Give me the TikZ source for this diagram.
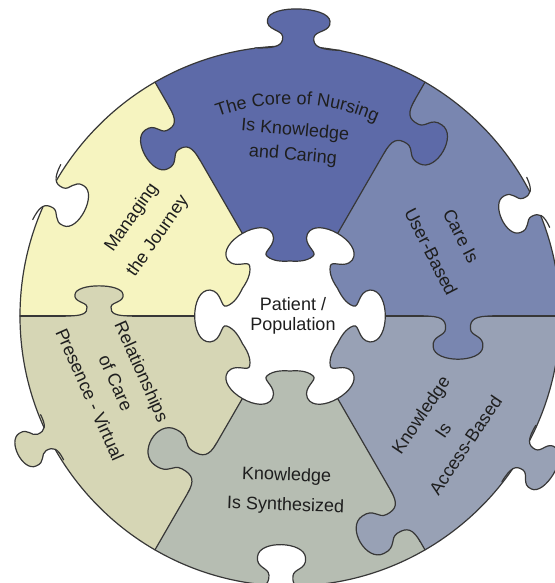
\documentclass[tikz,border=0pt]{standalone}
\usepackage{fontspec}
\setmainfont{Liberation Sans}
\usetikzlibrary{decorations.text}

\definecolor{corecol}{RGB}{93,106,168}
\definecolor{carecol}{RGB}{121,134,176}
\definecolor{accesscol}{RGB}{152,161,181}
\definecolor{synthcol}{RGB}{182,189,178}
\definecolor{relcol}{RGB}{214,214,181}
\definecolor{managecol}{RGB}{246,244,192}
\definecolor{linecol}{RGB}{55,55,55}
\definecolor{txt}{RGB}{30,30,30}

\newcommand{\tabcurve}{.. controls (-0.55,0) and (-0.38,0.08) .. (-0.4,0.3)
  .. controls (-0.42,0.48) and (-0.85,0.45) .. (-0.8,0.72)
  .. controls (-0.76,1.1) and (0.76,1.1) .. (0.8,0.72)
  .. controls (0.85,0.45) and (0.42,0.48) .. (0.4,0.3)
  .. controls (0.38,0.08) and (0.55,0) .. (1.1,0)}
\newcommand{\puzzletab}[5]{%
  \begin{scope}[shift={#1}, rotate=#2-90, xscale=#3, yscale=#4]
    \fill[#5] (-1.1,-0.15) -- (-1.1,0) \tabcurve -- (1.1,-0.15) -- cycle;
    \draw[puzzleline] (-1.1,0) \tabcurve;
  \end{scope}}

\begin{document}
\begin{tikzpicture}[x=0.5pt, y=0.5pt,
    puzzleline/.style={draw=linecol, line width=0.6pt, line join=round, line cap=round},
    lbl/.style={text=txt, align=center, font=\fontsize{9}{#1}\selectfont}]
\useasboundingbox (-290,-267) rectangle (265,316);

\foreach \a/\c in {0/carecol, 60/corecol, 120/managecol, 180/relcol, 240/synthcol, 300/accesscol}
  \fill[\c] (0,0) -- (\a:270) arc[start angle=\a, end angle=\a+60, radius=270] -- cycle;
\foreach \a in {0,60,...,300}
  \draw[puzzleline] (0,0) -- (\a:270);
\draw[puzzleline] (0,0) circle[radius=270];

\puzzletab{(88.3:267)}{88.3}{39}{40}{corecol}
\puzzletab{(24.6:273)}{204.6}{25}{40}{white}
\puzzletab{(-31:267)}{-31}{30}{40}{accesscol}
\puzzletab{(268:273)}{88}{30}{44}{white}
\puzzletab{(207:267)}{207}{23}{38}{relcol}
\puzzletab{(153:273)}{333}{28}{42}{white}

\puzzletab{(0:168)}{-90}{31}{43}{carecol}
\puzzletab{(60:219)}{-30}{28}{50}{corecol}
\puzzletab{(120:211)}{210}{28}{45}{corecol}
\puzzletab{(180:191)}{90}{30}{30}{relcol}
\puzzletab{(240:176)}{150}{26}{58}{synthcol}
\puzzletab{(300:231)}{210}{27}{52}{accesscol}

\filldraw[puzzleline, fill=white] (-30:55)
  \foreach \a in {0,60,...,300} {
    .. controls (\a-22:55) and (\a-13:57) .. (\a-9:64)
    .. controls (\a-6:70) and (\a-20:72) .. (\a-18:84)
    .. controls (\a-15:104) and (\a+15:104) .. (\a+18:84)
    .. controls (\a+20:72) and (\a+6:70) .. (\a+9:64)
    .. controls (\a+13:57) and (\a+22:55) .. (\a+30:55)
  } -- cycle;

\path[decorate, decoration={text along path, text align=center, text color=txt,
    text={|\fontsize{9}{11}\selectfont|The Core of Nursing}}]
  (125:212) arc[start angle=125, end angle=51, radius=212];
\node (core)[lbl=12.5, rotate=-5] at (4,173) {Is Knowledge\\and Caring};
\node (care)[lbl=17, rotate=-63] at (156,72) {Care Is\\User-Based};
\node (access)[lbl=13.5, rotate=56] at (153,-114) {Knowledge\\Is\\Access-Based};
\node (synth)[lbl=15, rotate=-2] at (-4,-175) {Knowledge\\Is Synthesized};
\node (relation)[lbl=14.25, rotate=-66] at (-174,-67) {Relationships\\of Care\\Presence - Virtual};
\node (journey)[lbl=16, rotate=55] at (-145,89) {Managing\\the Journey};
\node (patient)[lbl=10] at (3,0) {Patient /\\Population};
\end{tikzpicture}
\end{document}
